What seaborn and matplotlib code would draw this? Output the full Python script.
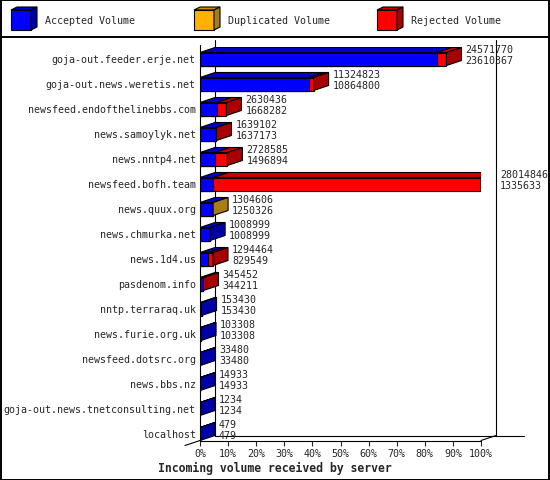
import numpy as np
import pandas as pd
import matplotlib
matplotlib.use('Agg')
import matplotlib.pyplot as plt
from matplotlib.patches import Polygon, Rectangle
from matplotlib.lines import Line2D
import seaborn as sns

#-------------------------------------------------------------------------

# Servers, top to bottom
servers = [
    'goja-out.feeder.erje.net', 'goja-out.news.weretis.net',
    'newsfeed.endofthelinebbs.com', 'news.samoylyk.net', 'news.nntp4.net',
    'newsfeed.bofh.team', 'news.quux.org', 'news.chmurka.net', 'news.1d4.us',
    'pasdenom.info', 'nntp.terraraq.uk', 'news.furie.org.uk',
    'newsfeed.dotsrc.org', 'news.bbs.nz', 'goja-out.news.tnetconsulting.net',
    'localhost',
]
offered = [24571770, 11324823, 2630436, 1639102, 2728585, 28014846, 1304606,
           1008999, 1294464, 345452, 153430, 103308, 33480, 14933, 1234, 479]
accepted = [23610367, 10864800, 1668282, 1637173, 1496894, 1335633, 1250326,
            1008999, 829549, 344211, 153430, 103308, 33480, 14933, 1234, 479]
duplicated = [0, 0, 0, 0, 0, 0, 54280, 0, 0, 0, 0, 0, 0, 0, 0, 0]
rejected = [961403, 460023, 962154, 1929, 1231691, 26679213, 0, 0, 464915,
            1241, 0, 0, 0, 0, 0, 0]

series = ['Accepted Volume', 'Duplicated Volume', 'Rejected Volume']
front_colors = ['#0000ff', '#ffb000', '#ff0000']
top_colors = ['#0000cc', '#cc8c00', '#cc0000']
side_colors = ['#0000a8', '#a87c18', '#a80000']

xticks = list(range(0, 101, 10))
xlabel = 'Incoming volume received by server'

#-------------------------------------------------------------------------

BAR_W = 0.52     # bar thickness in rows
DX = 5.34        # depth offset in percent
DY = 0.2         # depth offset in rows
FONT = 'DejaVu Sans Mono'
FS = 7.2
LW = 0.8

sns.set_style('white')
plt.rcParams['font.family'] = [FONT]

scale = max(offered) / 100.0
df = pd.DataFrame({
    'server': servers,
    'acc': np.array(accepted) / scale,
    'accdup': (np.array(accepted) + np.array(duplicated)) / scale,
    'total': (np.array(accepted) + np.array(duplicated) + np.array(rejected)) / scale,
})

n = len(servers)
FLOOR = n - 1 + 0.26
TOP = -0.56

fig = plt.figure(figsize=(5.5, 4.8), dpi=100)
# rows sit 25 px apart, first row centre at 59 px; axes bottom is the front floor
ax_top_px = 59 - 0.5 * 25
ax_bot_px = 59 + FLOOR * 25
ax = fig.add_axes([200 / 550, 1 - ax_bot_px / 480, 281 / 550,
                   (ax_bot_px - ax_top_px) / 480])

# front faces, layered: rejected, duplicated, accepted
for col, c in zip(['total', 'accdup', 'acc'], front_colors[::-1]):
    sns.barplot(data=df, x=col, y='server', orient='h', color=c, saturation=1,
                width=BAR_W, edgecolor='black', linewidth=LW, ax=ax, zorder=2)

# top and side faces
for i, row in df.iterrows():
    yt = i - BAR_W / 2
    yb = i + BAR_W / 2
    segs = [(0, row['acc'], 0), (row['acc'], row['accdup'], 1),
            (row['accdup'], row['total'], 2)]
    last = 0
    for s, e, k in segs:
        if e - s > 0:
            last = k
            ax.add_patch(Polygon([(s, yt), (e, yt), (e + DX, yt - DY), (s + DX, yt - DY)],
                                 closed=True, fc=top_colors[k], ec='black', lw=LW, zorder=3))
    end = row['total']
    ax.add_patch(Polygon([(end, yt), (end, yb), (end + DX, yb - DY), (end + DX, yt - DY)],
                         closed=True, fc=side_colors[last], ec='black', lw=LW, zorder=3))
    tx = end + DX + 1.4
    ax.text(tx, i - 0.36, str(offered[i]), fontsize=FS, va='center', ha='left', zorder=4)
    ax.text(tx, i + 0.07, str(accepted[i]), fontsize=FS, va='center', ha='left', zorder=4)

# walls and floor
frame = dict(color='black', lw=LW, clip_on=False)
ax.plot([0, 0], [TOP, FLOOR], zorder=5, **frame)
ax.plot([DX, DX], [TOP - DY, FLOOR - DY], zorder=1, **frame)
ax.plot([100 + DX, 100 + DX], [TOP - DY, FLOOR - DY], zorder=1, **frame)
ax.plot([DX, 110 + DX], [FLOOR - DY, FLOOR - DY], zorder=1, **frame)
ax.plot([0, 100], [FLOOR, FLOOR], zorder=1, **frame)
ax.plot([100, 100 + DX], [FLOOR, FLOOR - DY], zorder=1, **frame)
ax.plot([-DX, 0], [FLOOR + DY, FLOOR], zorder=1, **frame)

ax.set_xlim(0, 100)
ax.set_ylim(FLOOR, -0.5)
ax.set_xticks(xticks)
ax.set_xticklabels([f'{v}%' for v in xticks], fontsize=FS)
ax.tick_params(axis='x', direction='out', length=3.6, width=LW, pad=2.5, bottom=True)
ax.tick_params(axis='y', length=0, pad=3, labelsize=FS)
ax.set_xlabel('')
ax.set_ylabel('')
for sp in ax.spines.values():
    sp.set_visible(False)
ax.patch.set_alpha(0)

fig.text(0.5, 1 - 468 / 480, xlabel, ha='center', va='center',
         fontsize=8.3, fontweight='bold', family=FONT)

# legend strip
lax = fig.add_axes([0, 1 - 37 / 480, 1, 37 / 480])
lax.set_xlim(0, 550)
lax.set_ylim(37, 0)
lax.axis('off')
for k, (name, x0) in enumerate(zip(series, [11, 194, 377])):
    lax.add_patch(Rectangle((x0, 10), 20, 20, fc=front_colors[k], ec='black', lw=LW))
    lax.add_patch(Polygon([(x0, 10), (x0 + 20, 10), (x0 + 26, 7), (x0 + 6, 7)],
                          closed=True, fc=top_colors[k], ec='black', lw=LW))
    lax.add_patch(Polygon([(x0 + 20, 10), (x0 + 20, 30), (x0 + 26, 27), (x0 + 26, 7)],
                          closed=True, fc=side_colors[k], ec='black', lw=LW))
    lax.text(x0 + 34, 20.5, name, fontsize=FS, va='center', ha='left')

fig.add_artist(Line2D([0, 1], [1 - 37 / 480] * 2, transform=fig.transFigure,
                      color='black', lw=1.4))
fig.add_artist(Rectangle((0.001, 0.001), 0.998, 0.998, transform=fig.transFigure,
                         fill=False, ec='black', lw=1.4))

fig.savefig('out.png', dpi=100)
